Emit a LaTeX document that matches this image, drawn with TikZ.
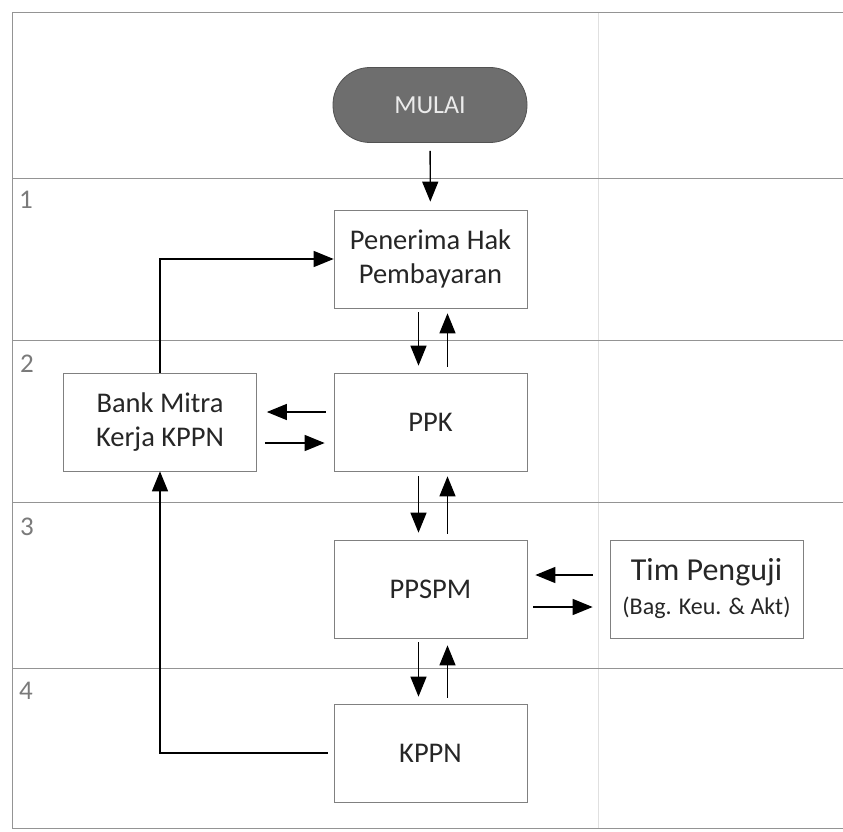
\documentclass[tikz,border=0pt]{standalone}
\usepackage{fontspec}
\setmainfont{Carlito}
\usetikzlibrary{arrows.meta}
\begin{document}
\begin{tikzpicture}[x=1pt,y=-1pt,
  lane/.style={draw=black!42, line width=0.9pt},
  divider/.style={draw=black!12, line width=0.6pt},
  procbox/.style={draw=black!50, line width=0.7pt, minimum width=193pt,
    minimum height=98pt, align=center, inner sep=0pt,
    font=\fontsize{28.5}{34}\selectfont, text=black!85},
  terminal/.style={fill=black!57, draw=black!68, line width=0.8pt,
    rounded corners=37pt, minimum width=194pt, minimum height=75pt,
    font=\fontsize{26}{30}\selectfont, text=black!8},
  flow/.style={draw=black, line width=1.4pt,
    -{Triangle[length=20pt,width=16pt]}},
  lanenum/.style={font=\fontsize{27}{30}\selectfont, text=black!52},
]
\useasboundingbox (0,0) rectangle (843,832);

% swimlane frame and separators
\draw[divider] (598,12) -- (598,828);
\draw[lane] (843,12) -- (12,12) -- (12,828) -- (843,828);
\draw[lane] (12,178) -- (843,178);
\draw[lane] (12,340) -- (843,340);
\draw[lane] (12,502) -- (843,502);
\draw[lane] (12,668) -- (843,668);

% lane numbers
\node[lanenum] (n1) at (26,200) {1};
\node[lanenum] (n2) at (27,364) {2};
\node[lanenum] (n3) at (27,527) {3};
\node[lanenum] (n4) at (26,691) {4};

% process steps
\node[terminal] (start) at (430,105) {MULAI};
\node[procbox] (pen) at (430.5,259) {Penerima Hak\\Pembayaran};
\node[procbox] (ppk) at (430.5,422) {PPK};
\node[procbox] (bank) at (160,422) {Bank Mitra\\Kerja KPPN};
\node[procbox] (ppspm) at (430.5,589) {PPSPM};
\node[procbox] (tim) at (706.5,589)
  {{\fontsize{32}{30}\selectfont Tim Penguji}\\[0pt]{\fontsize{24}{30}\selectfont (Bag. Keu. \& Akt)}};
\node[procbox] (kppn) at (430.5,753) {KPPN};

% flow between steps
\draw[flow, shorten <=8pt, shorten >=8pt] (start) -- (pen);

\draw[flow, shorten <=4pt, shorten >=7pt] ([xshift=-12pt]pen.south) -- ([xshift=-12pt]ppk.north);
\draw[flow, shorten <=6pt, shorten >=5pt] ([xshift=17pt]ppk.north) -- ([xshift=17pt]pen.south);

\draw[flow, shorten <=5pt, shorten >=7pt] ([xshift=-12pt]ppk.south) -- ([xshift=-12pt]ppspm.north);
\draw[flow, shorten <=6pt, shorten >=5pt] ([xshift=17pt]ppspm.north) -- ([xshift=17pt]ppk.south);

\draw[flow, shorten <=4pt, shorten >=7pt] ([xshift=-12pt]ppspm.south) -- ([xshift=-12pt]kppn.north);
\draw[flow, shorten <=6pt, shorten >=7pt] ([xshift=17pt]kppn.north) -- ([xshift=17pt]ppspm.south);

\draw[flow, shorten <=8pt, shorten >=10pt] ([yshift=10pt]ppk.west) -- ([yshift=10pt]bank.east);
\draw[flow, shorten <=8pt, shorten >=9pt] ([yshift=-21pt]bank.east) -- ([yshift=-21pt]ppk.west);

\draw[flow, shorten <=17pt, shorten >=8pt] ([yshift=14pt]tim.west) -- ([yshift=14pt]ppspm.east);
\draw[flow, shorten <=6pt, shorten >=17pt] ([yshift=-18pt]ppspm.east) -- ([yshift=-18pt]tim.west);

\draw[flow] (bank.north) |- (pen.west);
\draw[flow, shorten <=6pt] (kppn.west) -| (bank.south);
\end{tikzpicture}
\end{document}
